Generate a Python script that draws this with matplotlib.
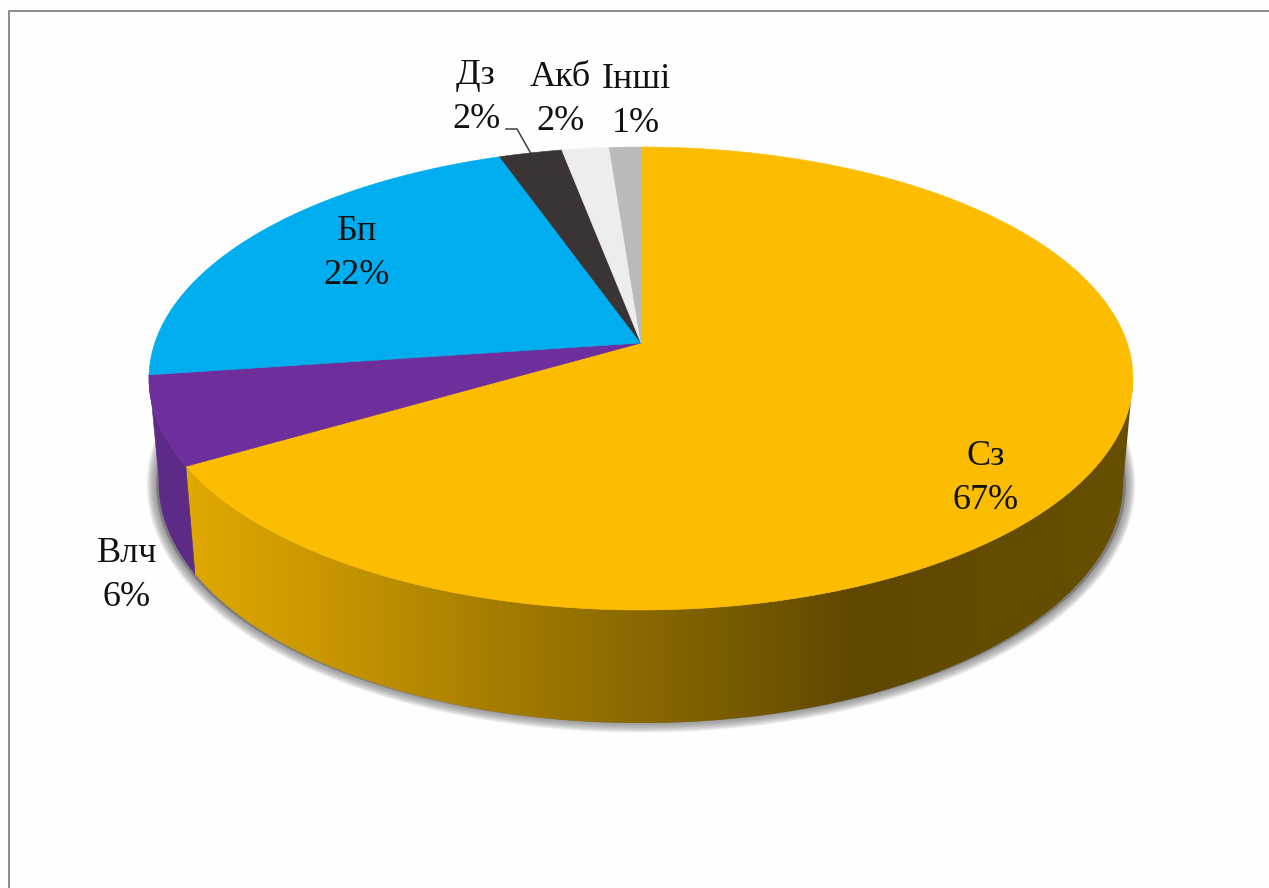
import numpy as np
import matplotlib
matplotlib.use('Agg')
import matplotlib.pyplot as plt
from matplotlib.patches import Polygon
from matplotlib.colors import LinearSegmentedColormap

# slices, clockwise from the top
names = ['Сз', 'Влч', 'Бп', 'Дз', 'Акб', 'Інші']
values = [66.6, 6.2, 21.8, 2.4, 1.8, 1.2]
colors = ['#FCBD00', '#6E2F9C', '#00AEEF', '#3A3435', '#EDEDED', '#BABABA']

# label centres in pixels
label_x = [986, 127, 357, 476, 560, 636]
label_y = [478, 575, 253, 98, 100, 102]

W, H = 1269, 888
cx, apex_y = 641, 343  # where the slices meet
top_y, low_y = 147, 610  # far and near rim of the top face
half_w = 492
bottom_y = 723  # lowest point of the side wall

# perspective of the tilted disc
k = ((apex_y + apex_y) - (top_y + low_y)) / (top_y - low_y)
B = top_y * (1 + k) - apex_y
c = half_w * np.sqrt(1 - k**2)
tangent = np.degrees(np.arccos(-k))  # right silhouette point of the disc


def rim(deg):
    th = np.radians(deg)
    d = 1 + k * np.cos(th)
    return cx + c * np.sin(th) / d, (apex_y + B * np.cos(th)) / d


def lower_rim(deg, sx=0.98, sy=1.04):
    x, y = rim(deg)
    return cx + sx * (x - cx), bottom_y - sy * (low_y - y)


def arc(a, b, f=rim):
    x, y = f(np.linspace(a, b, 240))
    return np.column_stack([x, y])


fig = plt.figure(figsize=(W / 100, H / 100), dpi=100, facecolor='#FEFEFE')
ax = fig.add_axes([0, 0, 1, 1])
ax.axis('off')

edges = np.cumsum([0] + values) / np.sum(values) * 360

# soft shadow below the wall
shadow = arc(0, 360, lambda d: lower_rim(d, sx=0.985, sy=1.03))
for lw in np.arange(14, 0, -1.0):
    ax.add_patch(Polygon(shadow, closed=True, fc='#707070', ec='#707070', lw=lw,
                         alpha=0.07, joinstyle='round', zorder=1))

# side wall, gold part has a gradient running left to right
wall_gold = np.vstack([arc(tangent, edges[1]), arc(edges[1], tangent, lower_rim)])
wall_patch = Polygon(wall_gold, closed=True, fc='none', ec='none', zorder=2)
ax.add_patch(wall_patch)
stops = [(187, '#E0A800'), (350, '#C49300'), (500, '#A47C00'), (700, '#7F6000'),
         (860, '#5F4700'), (1133, '#685000')]
cmap = LinearSegmentedColormap.from_list(
    'wall', [((x - 187) / (1133 - 187), col) for x, col in stops])
img = ax.imshow(np.linspace(0, 1, 512)[None, :], cmap=cmap, aspect='auto',
                extent=[187, 1133, 740, 340], zorder=2)
img.set_clip_path(wall_patch)

wall_purple = np.vstack([arc(edges[1], edges[2]), arc(edges[2], edges[1], lower_rim)])
ax.add_patch(Polygon(wall_purple, closed=True, fc='#5E2A87', ec='#5E2A87', lw=0.4, zorder=3))

# top face
apex = np.array([[cx, apex_y]])
for i in range(len(values)):
    pts = np.vstack([apex, arc(edges[i], edges[i + 1])])
    ax.add_patch(Polygon(pts, closed=True, fc=colors[i], ec=colors[i], lw=0.4, zorder=4))

# leader line for the small slice
mx, my = rim((edges[3] + edges[4]) / 2)
ax.plot([506, 517, mx], [129, 129, my], color='#404040', lw=1.1, zorder=5)

for i in range(len(values)):
    ax.text(label_x[i], label_y[i], '{}\n{:.0f}%'.format(names[i], values[i]),
            family=['Liberation Serif'], fontsize=26, color='#111111',
            ha='center', va='center', linespacing=1.44, zorder=6)

# thin frame, only the left and top edges are in the picture
ax.plot([8.5, 8.5, W], [H, 11.5, 11.5], color='#8C8C8C', lw=1.4, zorder=7)

ax.set_xlim(0, W)
ax.set_ylim(H, 0)
fig.savefig('out.png', dpi=100, facecolor=fig.get_facecolor())
